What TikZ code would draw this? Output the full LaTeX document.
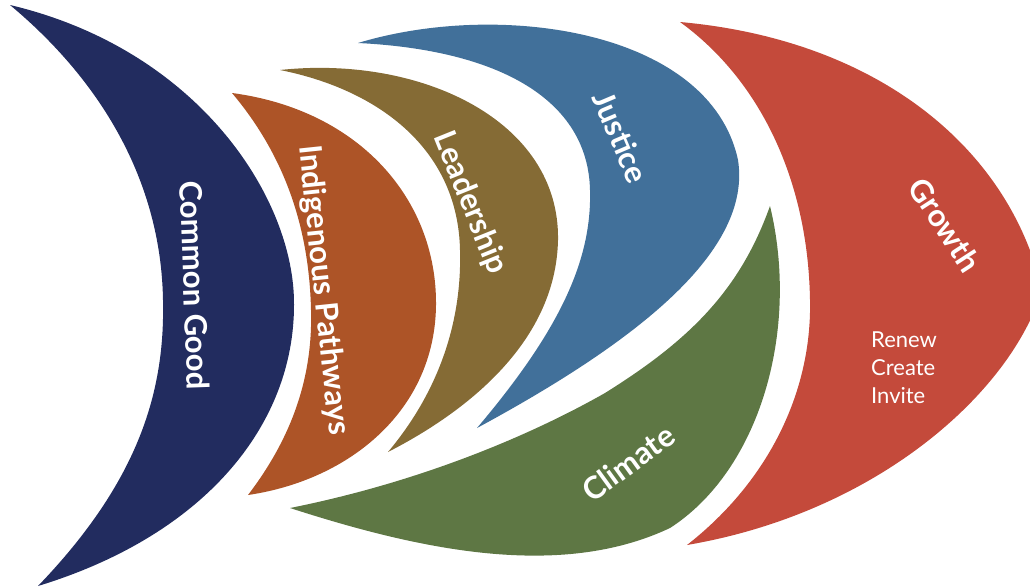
\documentclass[tikz,border=0pt]{standalone}
\usepackage{fontspec}
\setmainfont{Lato}
\definecolor{cgnavy}{HTML}{222C5F}
\definecolor{cgorange}{HTML}{AD5427}
\definecolor{cgolive}{HTML}{856B35}
\definecolor{cgblue}{HTML}{41709A}
\definecolor{cggreen}{HTML}{5E7744}
\definecolor{cgred}{HTML}{C44A3B}

\begin{document}
\begin{tikzpicture}[x=1pt,y=-1pt]
	\tikzstyle{Label}=[text=white,inner sep=0pt,font=\fontsize{31}{31}\selectfont\bfseries]
	\tikzstyle{Small}=[text=white,inner sep=0pt,align=left,font=\fontsize{22}{28}\selectfont]
	\useasboundingbox (0,0) rectangle (1030,587);
	% tail
	\fill[cgnavy] (10,5) .. controls (200,50) and (295,200) .. (294,305) .. controls (294,425) and (205,535) .. (38,586)
		.. controls (140,480) and (165,390) .. (163,300) .. controls (161,180) and (100,80) .. (10,5) -- cycle;
	\fill[cgorange] (232,93) .. controls (360,110) and (437,200) .. (436,305) .. controls (435,410) and (350,480) .. (248,495)
		.. controls (290,440) and (313,380) .. (311,310) .. controls (309,220) and (280,150) .. (232,93) -- cycle;
	\fill[cgolive] (280,70) .. controls (420,55) and (560,120) .. (558,240) .. controls (556,340) and (470,410) .. (388,452)
		.. controls (440,390) and (462,320) .. (460,250) .. controls (458,150) and (380,90) .. (280,70) -- cycle;
	% fins
	\fill[cgblue] (358,43) .. controls (500,0) and (710,30) .. (738,160) .. controls (752,250) and (640,340) .. (477,428)
		.. controls (560,330) and (592,260) .. (590,190) .. controls (588,100) and (500,50) .. (358,43) -- cycle;
	\fill[cggreen] (290,508) .. controls (420,550) and (560,580) .. (670,528) .. controls (760,470) and (800,330) .. (770,206)
		.. controls (740,290) and (690,340) .. (605,393) .. controls (540,430) and (430,480) .. (290,508) -- cycle;
	% head
	\fill[cgred] (680,22) .. controls (880,40) and (1010,150) .. (1042,290) .. controls (1012,390) and (880,512) .. (687,545)
		.. controls (770,480) and (812,390) .. (810,300) .. controls (808,180) and (760,80) .. (680,22) -- cycle;
	\node[Label,rotate=-88] (good) at (195,285) {Common Good};
	\node[Label,rotate=-84] (indig) at (323,290) {Indigenous Pathways};
	\node[Label,rotate=-68] (lead) at (470,203) {Leadership};
	\node[Label,rotate=-67] (just) at (621,137) {Justice};
	\node[Label,rotate=36] (clim) at (628,463) {Climate};
	\node[Label,rotate=-57] (grow) at (945,225) {Growth};
	\node[Small,anchor=west] (verbs) at (871,368) {Renew\\Create\\Invite};
\end{tikzpicture}
\end{document}
